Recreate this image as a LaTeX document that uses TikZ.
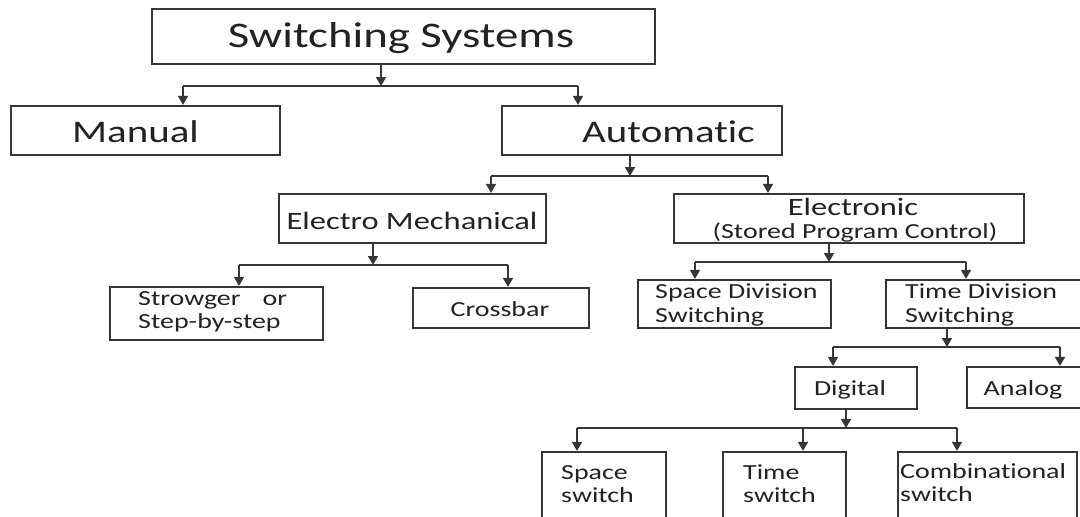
\documentclass[tikz,border=0pt]{standalone}
\usepackage{fontspec}
\setmainfont{Carlito}[FakeStretch=1.3,Ligatures=NoCommon]
\usetikzlibrary{arrows.meta}
\definecolor{ink}{HTML}{363636}
\definecolor{txt}{HTML}{222222}

% rectangle node from its corner coordinates: name, x1, y1, x2, y2
\newcommand\cornerbox[5]{%
  \node[box,minimum width={#4-#2},minimum height={#5-#3}] (#1)
    at ({(#2+#4)/2},{(#3+#5)/2}) {};}

\begin{document}
\begin{tikzpicture}[x=1pt,y=-1pt,
  box/.style={draw=ink,line width=2.2pt,rectangle,inner sep=0pt},
  wire/.style={draw=ink,line width=1.7pt},
  arr/.style={wire,-{Triangle[width=10pt,length=9pt]}},
  lbl/.style={text=txt,inner sep=0pt},
  huge/.style={lbl,font=\fontsize{36}{40}\selectfont},
  big/.style={lbl,font=\fontsize{31.5}{34}\selectfont},
  mid/.style={lbl,font=\fontsize{25}{28}\selectfont},
  small/.style={lbl,font=\fontsize{21.5}{24}\selectfont},
  ]
\useasboundingbox (0,0) rectangle (1080,517);
\clip (0,0) rectangle (1080,517);
\fill[white] (0,0) rectangle (1080,517);

% boxes
\cornerbox{sys}{152}{9}{655}{64}
\cornerbox{manual}{11}{106}{280}{155}
\cornerbox{auto}{502}{106}{782}{155}
\cornerbox{em}{279}{194}{546}{243}
\cornerbox{elec}{674}{194}{1024}{243}
\cornerbox{strow}{110}{287}{323}{340}
\cornerbox{cross}{413}{288}{589}{328}
\cornerbox{sdiv}{638}{280}{831}{328}
\cornerbox{tdiv}{886}{280}{1084}{328}
\cornerbox{dig}{795}{367}{917}{409}
\cornerbox{ana}{967}{367}{1084}{408}
\cornerbox{ssw}{542}{452}{666}{530}
\cornerbox{tsw}{723}{452}{846}{530}
\cornerbox{csw}{898}{452}{1077}{530}

% labels
\node[huge,anchor=base] (t-sys) at (401,47) {Switching Systems};
\node[big,anchor=base west] (t-manual) at (72,142) {Manual};
\node[big,anchor=base west] (t-auto) at (582,142) {Automatic};
\node[mid,anchor=base] (t-em) at (412,229) {Electro Mechanical};
\node[mid,anchor=base] (t-elec1) at (853,215) {Electronic};
\node[small,anchor=base] (t-elec2) at (855,238) {(Stored Program Control)};
\node[small,anchor=base west] (t-strow1) at (138,305) {Strowger\hspace{22pt}or};
\node[small,anchor=base west] (t-strow2) at (138,328) {Step-by-step};
\node[small,anchor=base] (t-cross) at (500,316) {Crossbar};
\node[small,anchor=base west] (t-sdiv1) at (655,298) {Space Division};
\node[small,anchor=base west] (t-sdiv2) at (655,322) {Switching};
\node[small,anchor=base west] (t-tdiv1) at (905,298) {Time Division};
\node[small,anchor=base west] (t-tdiv2) at (905,322) {Switching};
\node[small,anchor=base] (t-dig) at (850,395) {Digital};
\node[small,anchor=base] (t-ana) at (1023,395) {Analog};
\node[small,anchor=base west] (t-ssw1) at (561,479) {Space};
\node[small,anchor=base west] (t-ssw2) at (561,502) {switch};
\node[small,anchor=base west] (t-tsw1) at (743,479) {Time};
\node[small,anchor=base west] (t-tsw2) at (743,502) {switch};
\node[small,anchor=base west] (t-csw1) at (900,478) {Combinational};
\node[small,anchor=base west] (t-csw2) at (900,501) {switch};

% junction points on the branch lines
\coordinate (j1) at (381,86);  \coordinate (j1l) at (183,86);  \coordinate (j1r) at (578,86);
\coordinate (j2) at (630,176); \coordinate (j2l) at (491,176); \coordinate (j2r) at (768,176);
\coordinate (j3) at (373,265); \coordinate (j3l) at (239,265); \coordinate (j3r) at (508,265);
\coordinate (j4) at (829,262); \coordinate (j4l) at (695,262); \coordinate (j4r) at (966,262);
\coordinate (j5) at (947,347); \coordinate (j5l) at (833,347); \coordinate (j5r) at (1060,347);
\coordinate (j6) at (846,428); \coordinate (j6l) at (577,428); \coordinate (j6m) at (803,428);
\coordinate (j6r) at (957,428);

% Switching Systems -> Manual / Automatic
\draw[arr] (sys.south -| j1) -- (j1);
\draw[wire] (j1l) -- (j1r);
\draw[arr] (j1l) -- (j1l |- manual.north);
\draw[arr] (j1r) -- (j1r |- auto.north);

% Automatic -> Electro Mechanical / Electronic
\draw[arr] (auto.south -| j2) -- (j2);
\draw[wire] (j2l) -- (j2r);
\draw[arr] (j2l) -- (j2l |- em.north);
\draw[arr] (j2r) -- (j2r |- elec.north);

% Electro Mechanical -> Strowger / Crossbar
\draw[arr] (em.south -| j3) -- (j3);
\draw[wire] (j3l) -- (j3r);
\draw[arr] (j3l) -- (j3l |- strow.north);
\draw[arr] (j3r) -- (j3r |- cross.north);

% Electronic -> Space / Time Division
\draw[arr] (elec.south -| j4) -- (j4);
\draw[wire] (j4l) -- (j4r);
\draw[arr] (j4l) -- (j4l |- sdiv.north);
\draw[arr] (j4r) -- (j4r |- tdiv.north);

% Time Division -> Digital / Analog
\draw[arr] (tdiv.south -| j5) -- (j5);
\draw[wire] (j5l) -- (j5r);
\draw[arr] (j5l) -- (j5l |- dig.north);
\draw[arr] (j5r) -- (j5r |- ana.north);

% Digital -> Space / Time / Combinational switch
\draw[arr] (dig.south -| j6) -- (j6);
\draw[wire] (j6l) -- (j6r);
\draw[arr] (j6l) -- (j6l |- ssw.north);
\draw[arr] (j6m) -- (j6m |- tsw.north);
\draw[arr] (j6r) -- (j6r |- csw.north);
\end{tikzpicture}
\end{document}
